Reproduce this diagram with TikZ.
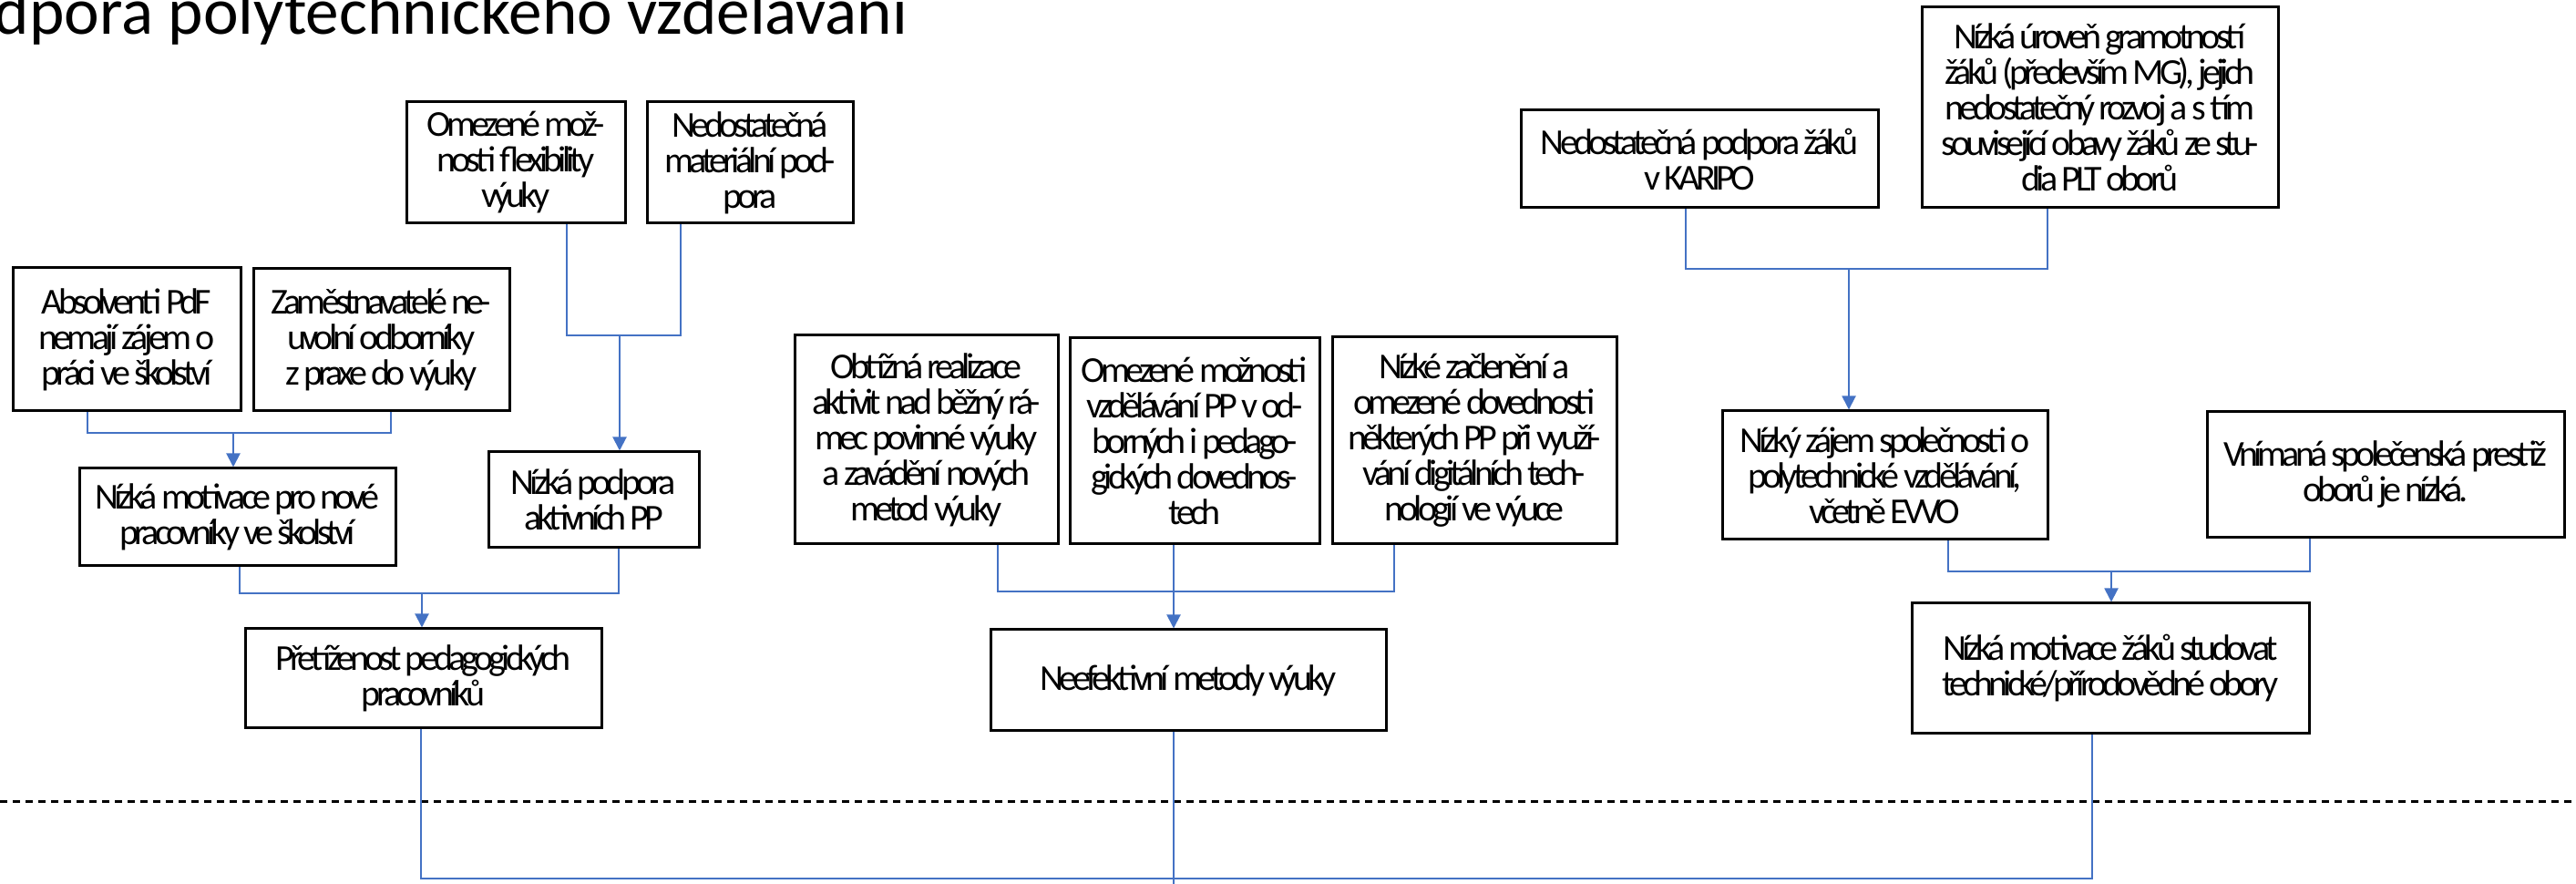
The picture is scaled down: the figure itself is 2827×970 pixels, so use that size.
\documentclass[tikz,border=0pt]{standalone}
\usepackage{fontspec}
\usepackage{graphicx}
\setmainfont{Carlito}
\newfontfamily\boxfont[LetterSpace=-12]{Carlito}
\usetikzlibrary{arrows.meta}
\definecolor{cblue}{HTML}{4472C4}
\begin{document}
\begin{tikzpicture}[x=0.25pt,y=-0.25pt,
  box/.style={draw=black, line width=0.75pt, inner sep=0pt, align=center,
    font=\boxfont\fontsize{10pt}{9.75pt}\selectfont},
  bx/.style 2 args={box, minimum width=#1, minimum height=#2},
  conn/.style={draw=cblue, line width=0.5pt},
  arr/.style={conn, -{Triangle[width=3.75pt,length=3.75pt]}},
  dline/.style={draw=black, line width=0.75pt, dash pattern=on 2pt off 1.5pt},
  ttl/.style={anchor=base west, inner sep=0pt, font=\fontsize{18.3pt}{21pt}\selectfont}]
\useasboundingbox (0,0) rectangle (2827,970);

\node[ttl] (title) at (-82,38) {Podpora polytechnického vzdělávání};

% left group
\node[bx={60pt}{33.25pt}] (B1) at (566,178.5) {Omezené mož-\\nosti flexibility\\výuky};
\node[bx={56.5pt}{33.25pt}] (B2) at (823,178.5) {Nedostatečná\\materiální pod-\\pora};
\node[bx={62.5pt}{39.25pt}] (B3) at (139,372.5) {Absolventi PdF\\nemají zájem o\\práci ve školství};
\node[bx={70.25pt}{39pt}] (B4) at (418.5,373) {Zaměstnavatelé ne-\\uvolní odborníky\\z praxe do výuky};
\node[bx={86.75pt}{26.75pt}] (B5) at (260.5,567.5) {Nízká motivace pro nové\\pracovníky ve školství};
\node[bx={57.75pt}{26.25pt}] (B6) at (651.5,548.5) {Nízká podpora\\aktivních PP};
\node[bx={97.75pt}{27.25pt}] (B7) at (464.5,744.5) {Přetíženost pedagogických\\pracovníků};

% middle group
\node[bx={72.25pt}{57.25pt}] (B8) at (1016.5,482.5) {Obtížná realizace\\aktivit nad běžný rá-\\mec povinné výuky\\a zavádění nových\\metod výuky};
\node[bx={68.5pt}{56.5pt}] (B9) at (1311,484) {Omezené možnosti\\vzdělávání PP v od-\\borných i pedago-\\gických dovednos-\\tech};
\node[bx={78pt}{56.75pt}] (B10) at (1618,483.5) {Nízké začlenění a\\omezené dovednosti\\některých PP při využí-\\vání digitálních tech-\\nologií ve výuce};
\node[bx={108.5pt}{27.75pt}] (B11) at (1304,746.5) {Neefektivní metody výuky};

% right group
\node[bx={98pt}{26.75pt}] (B12) at (1865,174.5) {Nedostatečná podpora žáků\\v KARIPO};
\node[bx={97.75pt}{55pt}] (B13) at (2304.5,118) {Nízká úroveň gramotností\\žáků (především MG), jejich\\nedostatečný rozvoj a s tím\\související obavy žáků ze stu-\\dia PLT oborů};
\node[bx={89.25pt}{35.25pt}] (B14) at (2068.5,521.5) {Nízký zájem společnosti o\\polytechnické vzdělávání,\\včetně EVVO};
\node[bx={98pt}{34.5pt}] (B15) at (2618,521) {Vnímaná společenská prestiž\\oborů je nízká.};
\node[bx={109pt}{35.75pt}] (B16) at (2316,733.5) {Nízká motivace žáků studovat\\technické/přírodovědné obory};

% dashed separator
\coordinate (DL) at (0,880);
\coordinate (DR) at (2827,880);
\draw[dline] (DL) -- (DR);

% junctions
\coordinate (J1) at (680,368);
\coordinate (J2) at (256,475);
\coordinate (J3) at (463,651);
\coordinate (J4) at (1288,649);
\coordinate (J5) at (2029,295);
\coordinate (J6) at (2317,627);
\coordinate (J7) at (1288,964);
\coordinate (E) at (1288,970);

\draw[conn] ([xshift=14pt]B1.south) |- (J1);
\draw[conn] ([xshift=-19pt]B2.south) |- (J1);
\draw[arr] (J1) -- (J1 |- B6.north);

\draw[conn] ([xshift=-10.75pt]B3.south) |- (J2);
\draw[conn] ([xshift=2.625pt]B4.south) |- (J2);
\draw[arr] (J2) -- (J2 |- B5.north);

\draw[conn] ([xshift=0.625pt]B5.south) |- (J3);
\draw[conn] ([xshift=6.875pt]B6.south) |- (J3);
\draw[arr] (J3) -- (J3 |- B7.north);

\draw[conn] ([xshift=19.625pt]B8.south) |- (J4);
\draw[conn] ([xshift=-5.75pt]B9.south) |- (J4);
\draw[conn] ([xshift=-22pt]B10.south) |- (J4);
\draw[arr] (J4) -- (J4 |- B11.north);

\draw[conn] ([xshift=-3.75pt]B12.south) |- (J5);
\draw[conn] ([xshift=-14.375pt]B13.south) |- (J5);
\draw[arr] (J5) -- (J5 |- B14.north);

\draw[conn] ([xshift=17.375pt]B14.south) |- (J6);
\draw[conn] ([xshift=-20.75pt]B15.south) |- (J6);
\draw[arr] (J6) -- (J6 |- B16.north);

\draw[conn] ([xshift=-0.625pt]B7.south) |- (J7);
\draw[conn] ([xshift=-5pt]B16.south) |- (J7);
\draw[conn] ([xshift=-4pt]B11.south) -- (E);
\end{tikzpicture}
\end{document}
